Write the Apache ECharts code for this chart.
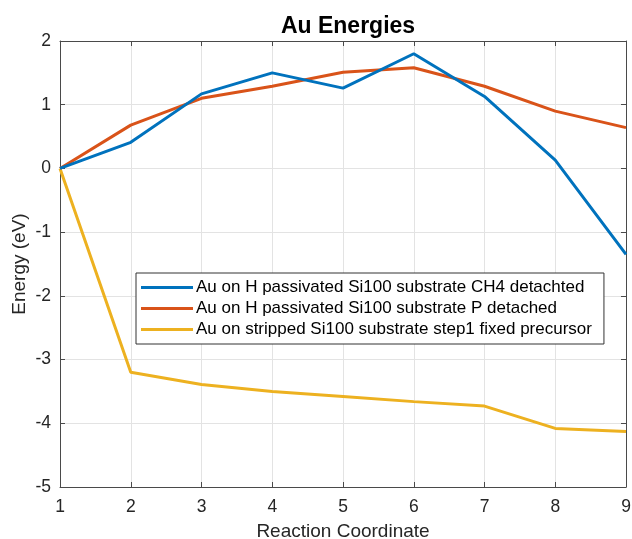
<!DOCTYPE html>
<html><head><meta charset="utf-8">
<script src="https://cdn.jsdelivr.net/npm/echarts@6/dist/echarts.min.js"></script>
<style>html,body{margin:0;padding:0;background:#fff}#c{width:632px;height:539px}</style>
</head><body><div id="c"></div>
<script>
const categories = [1, 2, 3, 4, 5, 6, 7, 8, 9];
const seriesNames = [
  'Au on H passivated Si100 substrate CH4 detachted',
  'Au on H passivated Si100 substrate P detached',
  'Au on stripped Si100 substrate step1 fixed precursor'
];
const ch4Detached = [0, 0.41, 1.17, 1.50, 1.26, 1.80, 1.13, 0.13, -1.35];
const pDetached = [0, 0.68, 1.10, 1.29, 1.51, 1.58, 1.29, 0.90, 0.64];
const strippedStep1 = [0, -3.20, -3.39, -3.50, -3.58, -3.66, -3.73, -4.08, -4.13];
const colors = ['#0072BD', '#D95319', '#EDB120'];
const FONT = 'Liberation Sans, Arial, sans-serif';
const axisCol = '#4a4a4a';

const pairs = a => a.map((v, i) => [categories[i], v]);
const chart = echarts.init(document.getElementById('c'), null, {renderer: 'canvas'});
const seriesData = [ch4Detached, pDetached, strippedStep1];
chart.setOption({
  animation: false,
  backgroundColor: '#fff',
  title: {text: 'Au Energies', left: 343, textAlign: 'center', top: 10,
    textStyle: {fontFamily: FONT, fontSize: 23, fontWeight: 'bold', color: '#000'}},
  grid: {left: 60, right: 6, top: 41, bottom: 52, containLabel: false, outerBoundsMode: 'none'},
  legend: {
    orient: 'vertical', left: 136, top: 273,
    backgroundColor: '#fff', borderColor: '#333', borderWidth: 1,
    padding: [6, 12, 6, 5], itemGap: 4,
    itemWidth: 52, itemHeight: 3, icon: 'rect',
    textStyle: {fontFamily: FONT, fontSize: 17, color: '#000', padding: [0,0,0,-2]},
    data: seriesNames
  },
  xAxis: [{
    type: 'value', min: 1, max: 9, interval: 1,
    name: 'Reaction Coordinate', nameLocation: 'middle', nameGap: 35,
    nameTextStyle: {fontFamily: FONT, fontSize: 19, color: '#262626'},
    axisLine: {show: true, onZero: false, lineStyle: {color: axisCol, width: 1}},
    axisTick: {show: true, inside: true, length: 5, lineStyle: {color: axisCol}},
    axisLabel: {fontFamily: FONT, fontSize: 17.5, color: '#262626', margin: 11},
    splitLine: {show: true, lineStyle: {color: '#e3e3e3', width: 1}}
  }, {
    type: 'value', min: 1, max: 9, interval: 1, position: 'top',
    axisLine: {show: true, onZero: false, lineStyle: {color: axisCol, width: 1}},
    axisTick: {show: true, inside: true, length: 5, lineStyle: {color: axisCol}},
    axisLabel: {show: false}, splitLine: {show: false}
  }],
  yAxis: [{
    type: 'value', min: -5, max: 2, interval: 1,
    name: 'Energy (eV)', nameLocation: 'middle', nameGap: 31, nameMoveOverlap: false,
    nameTextStyle: {fontFamily: FONT, fontSize: 19, color: '#262626'},
    axisLine: {show: true, onZero: false, lineStyle: {color: axisCol, width: 1}},
    axisTick: {show: true, inside: true, length: 5, lineStyle: {color: axisCol}},
    axisLabel: {fontFamily: FONT, fontSize: 17.5, color: '#262626', margin: 9},
    splitLine: {show: true, lineStyle: {color: '#e3e3e3', width: 1}}
  }, {
    type: 'value', min: -5, max: 2, interval: 1, position: 'right',
    axisLine: {show: true, onZero: false, lineStyle: {color: axisCol, width: 1}},
    axisTick: {show: true, inside: true, length: 5, lineStyle: {color: axisCol}},
    axisLabel: {show: false}, splitLine: {show: false}
  }],
  series: seriesNames.map((n, i) => ({
    name: n, type: 'line', data: pairs(seriesData[i]),
    showSymbol: false, symbol: 'none',
    lineStyle: {color: colors[i], width: 3},
    itemStyle: {color: colors[i]},
    z: 3 - i
  }))
});
</script></body></html>
